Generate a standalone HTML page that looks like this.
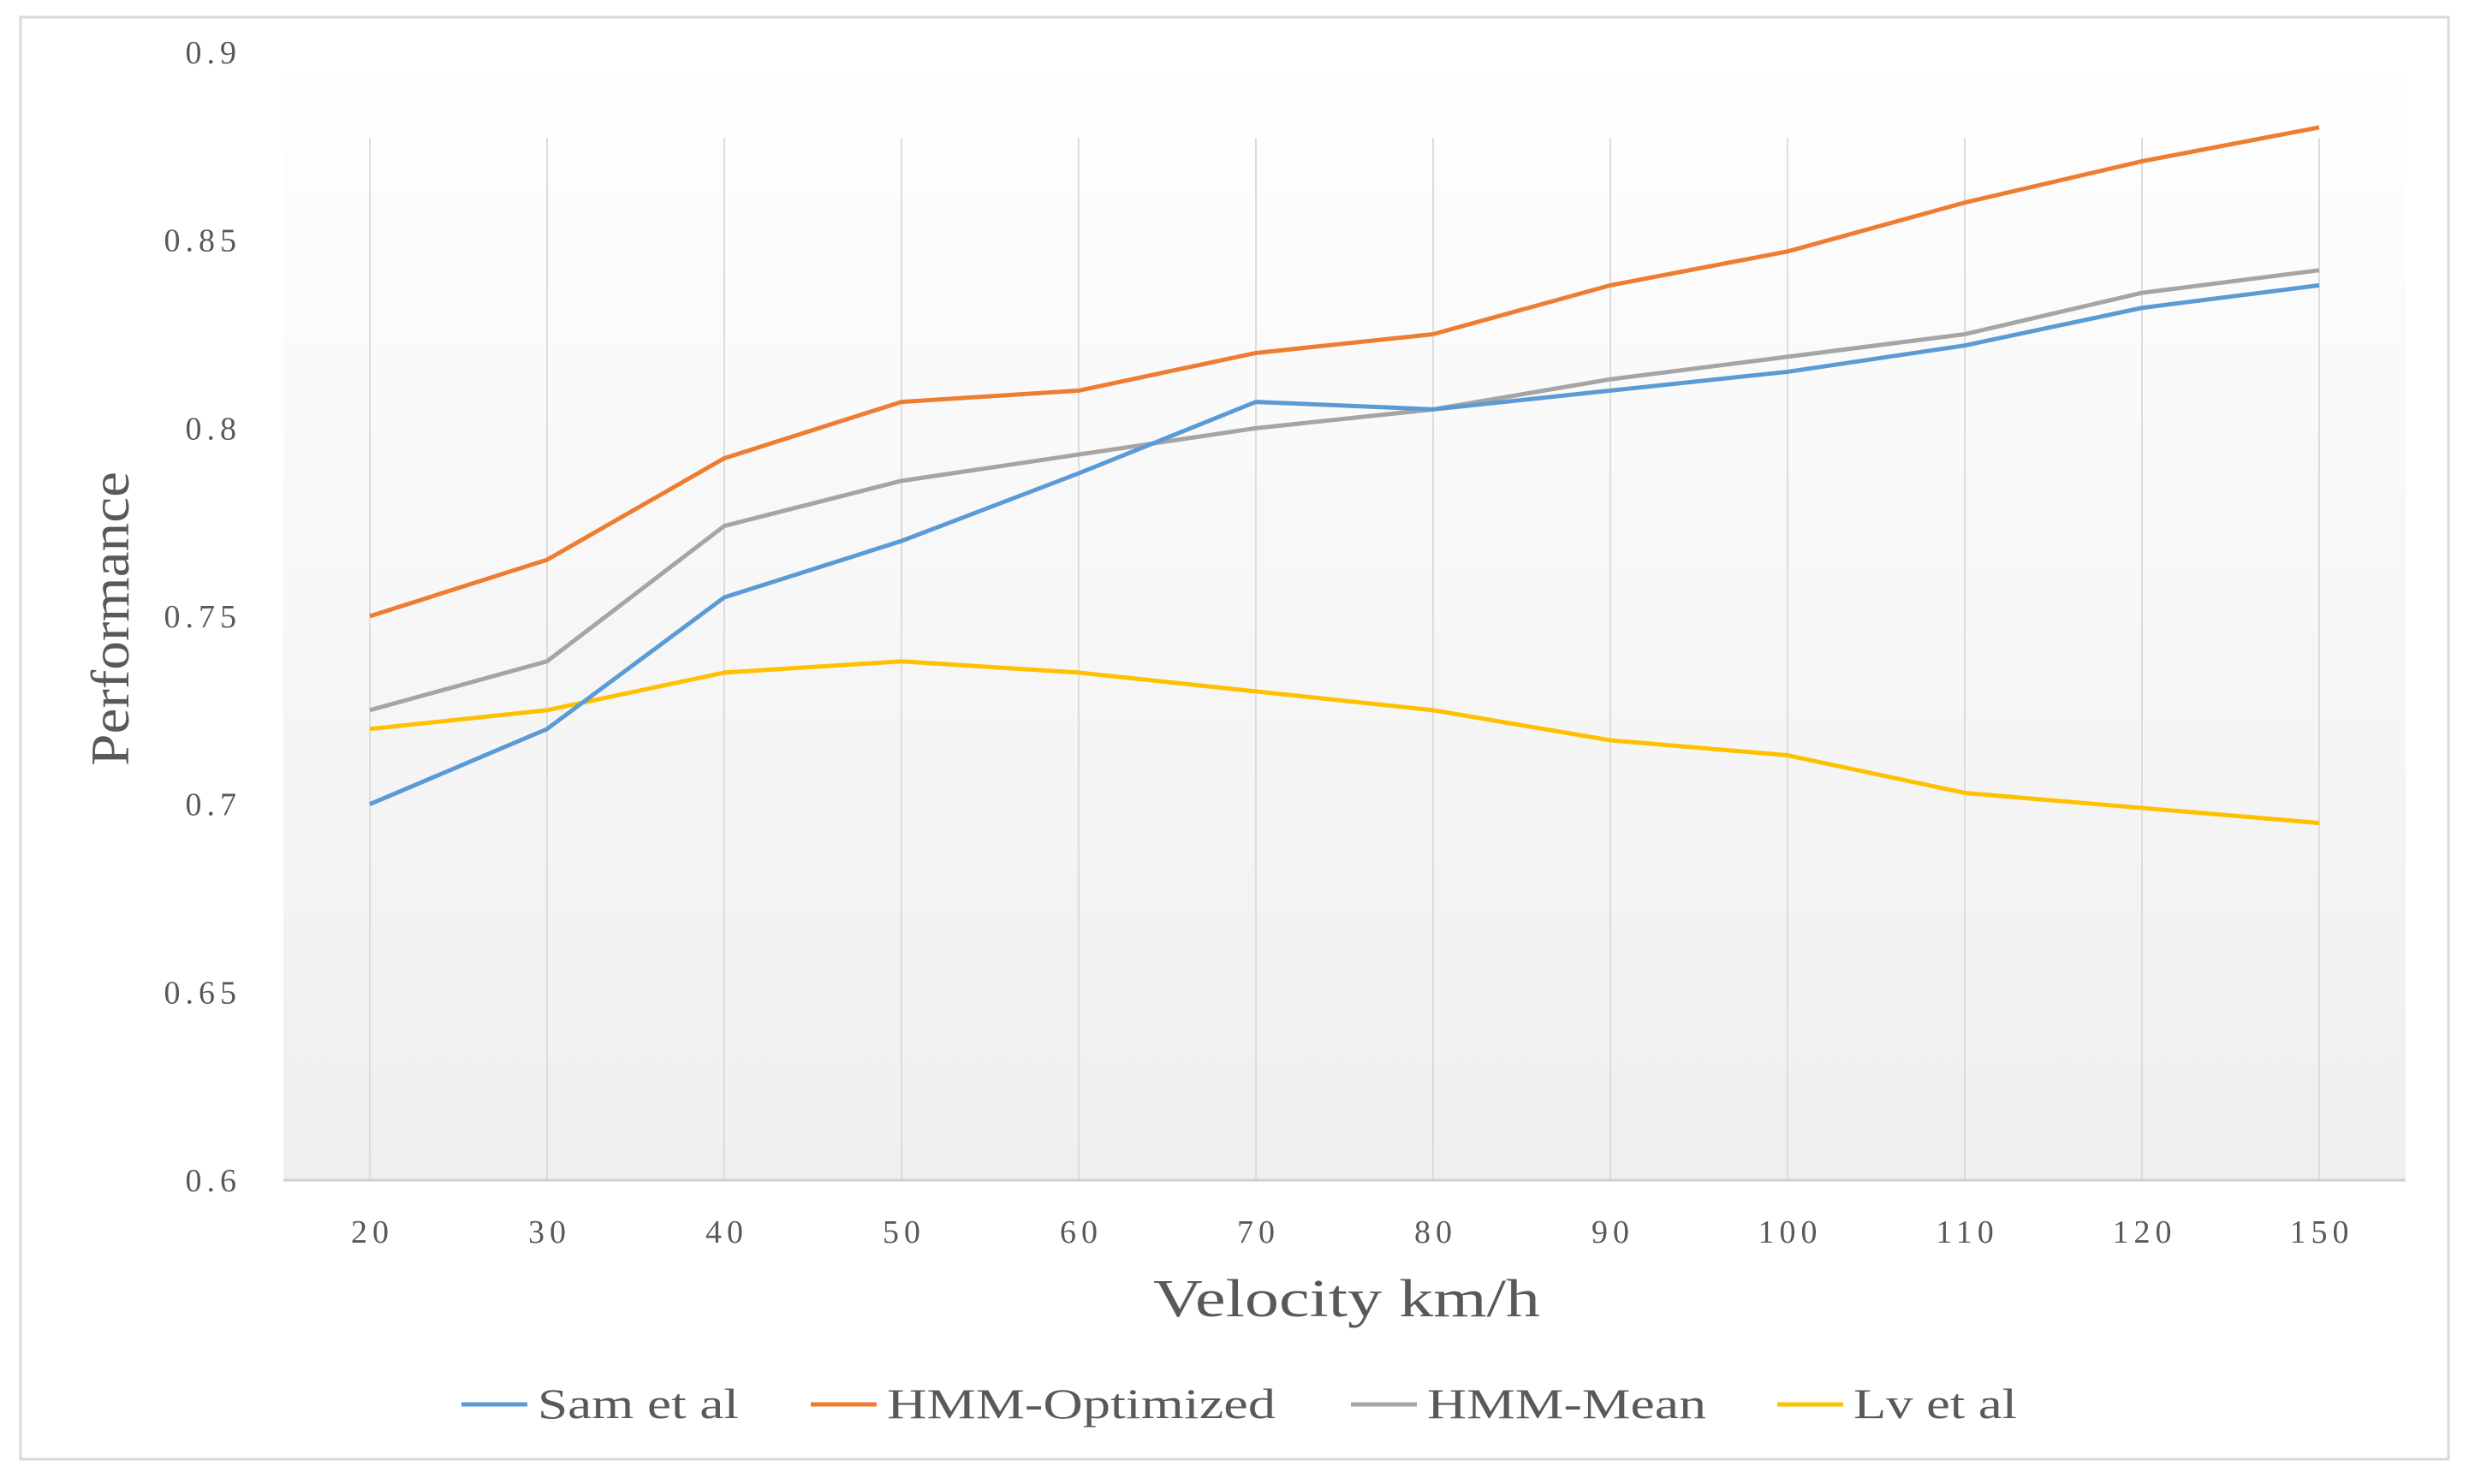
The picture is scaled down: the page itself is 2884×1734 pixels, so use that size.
<!DOCTYPE html>
<html><head><meta charset="utf-8"><style>
html,body{margin:0;padding:0;background:#fff}
svg text{font-family:"Liberation Serif",serif;fill:#595959}
</style></head><body>
<svg id="chart" width="2884" height="1729" xmlns="http://www.w3.org/2000/svg">
<defs><linearGradient id="bg" x1="0" y1="0" x2="0" y2="1">
<stop offset="0" stop-color="#ffffff"/><stop offset="0.1" stop-color="#fdfdfd"/><stop offset="1" stop-color="#efefef"/></linearGradient></defs>
<rect x="24" y="20" width="2836" height="1685" fill="#fff" stroke="#d9d9d9" stroke-width="3"/>
<rect x="331" y="61" width="2479" height="1318" fill="url(#bg)"/>
<g id="grid"></g><g id="axes"></g><g id="series"></g><g id="legend"></g>
</svg>
<script>
const categories=["20","30","40","50","60","70","80","90","100","110","120","150"];
const samEtAl=[0.70,0.72,0.755,0.77,0.788,0.807,0.805,0.81,0.815,0.822,0.832,0.838];
const hmmOptimized=[0.75,0.765,0.792,0.807,0.81,0.82,0.825,0.838,0.847,0.86,0.871,0.88];
const hmmMean=[0.725,0.738,0.774,0.786,0.793,0.80,0.805,0.813,0.819,0.825,0.836,0.842];
const lvEtAl=[0.72,0.725,0.735,0.738,0.735,0.73,0.725,0.717,0.713,0.703,0.699,0.695];
const yTicks=[0.6,0.65,0.7,0.75,0.8,0.85,0.9];
const seriesNames=["Sam et al","HMM-Optimized","HMM-Mean","Lv et al"];
const NS="http://www.w3.org/2000/svg";
const X0=432,X1=2709,Y0=1379,Y1=61,YMIN=0.6,YMAX=0.9;
function xPos(i){return X0+i*(X1-X0)/(categories.length-1);}
function yPos(v){return Y0-(v-YMIN)/(YMAX-YMIN)*(Y0-Y1);}
function mk(tag,attrs,parent){const e=document.createElementNS(NS,tag);for(const k in attrs)e.setAttribute(k,attrs[k]);parent.appendChild(e);return e;}
const grid=document.getElementById('grid'),axes=document.getElementById('axes'),ser=document.getElementById('series'),leg=document.getElementById('legend');
categories.forEach((c,i)=>{
  const l=mk('line',{x1:xPos(i),x2:xPos(i),y1:Y1+100,y2:Y0,stroke:'#dcdcdc','stroke-width':2},grid);
  
  
  const t=mk('text',{x:xPos(i)+3,y:1452,'text-anchor':'middle','font-size':38,'letter-spacing':6},axes);
  t.textContent=c;
  
  
});
yTicks.forEach(v=>{
  const t=mk('text',{x:282,y:yPos(v)+13,'text-anchor':'end','font-size':38,'letter-spacing':6},axes);
  t.textContent=String(v);
  
  
});
const ax=mk('line',{x1:331,x2:2810,y1:Y0,y2:Y0,stroke:'#d0d0d0','stroke-width':3},axes);


const xt=mk('text',{x:1347,y:1538,'font-size':62,textLength:452,lengthAdjust:'spacingAndGlyphs'},axes);
xt.textContent='Velocity km/h';


const yt=mk('text',{x:-172,y:0,'font-size':64,textLength:344,lengthAdjust:'spacingAndGlyphs',transform:'translate(150,723) rotate(-90)'},axes);
yt.textContent='Performance';


const colors=["#5b9bd5","#ed7d31","#a5a5a5","#ffc000"];
const data=[samEtAl,hmmOptimized,hmmMean,lvEtAl];
const order=[3,2,0,1];
order.forEach(k=>{
  const p=mk('polyline',{points:data[k].map((v,i)=>xPos(i)+','+yPos(v)).join(' '),fill:'none',stroke:colors[k],'stroke-width':5,'stroke-linejoin':'round'},ser);
  
  
});
const lx=[539,947,1578,2076];
const lw=[235,454,326,191];
seriesNames.forEach((n,k)=>{
  const g=mk('g',{},leg);
  
  
  mk('line',{x1:lx[k],x2:lx[k]+77,y1:1641,y2:1641,stroke:colors[k],'stroke-width':5},g);
  const t=mk('text',{x:lx[k]+89,y:1657,'font-size':50,textLength:lw[k],lengthAdjust:'spacingAndGlyphs'},g);
  t.textContent=n;
});
</script>
</body></html>
